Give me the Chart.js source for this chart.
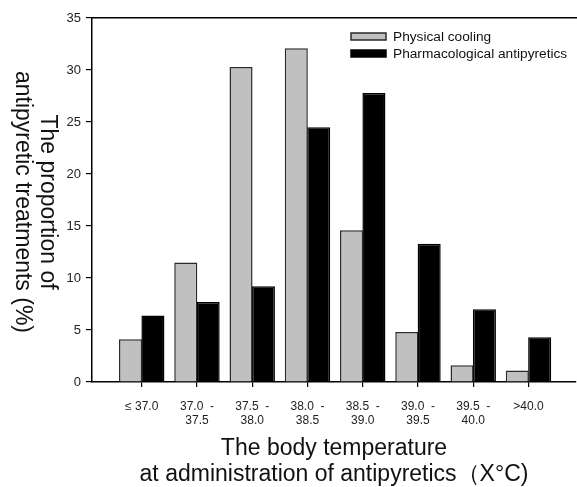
<!DOCTYPE html>
<html>
<head>
<meta charset="utf-8">
<script src="https://cdn.jsdelivr.net/npm/chart.js@4"></script>
<style>
  html, body { margin: 0; padding: 0; background: #fff; }
  canvas { display: block; }
</style>
</head>
<body>
<canvas id="chart" width="577" height="487"></canvas>
<script>
const categories = [
  ['\u2264 37.0'],
  ['37.0  -', '37.5'],
  ['37.5  -', '38.0'],
  ['38.0  -', '38.5'],
  ['38.5  -', '39.0'],
  ['39.0  -', '39.5'],
  ['39.5  -', '40.0'],
  ['>40.0']
];
const physicalCooling = [4.1, 11.5, 30.3, 32.1, 14.6, 4.8, 1.6, 1.1];
const pharmaAntipyretics = [6.4, 7.7, 9.2, 24.5, 27.8, 13.3, 7.0, 4.3];
const seriesNames = ['Physical cooling', 'Pharmacological antipyretics'];
const yTitle = ['The proportion of', 'antipyretic treatments (%)'];
const xTitle = ['The body temperature', 'at administration of antipyretics\uFF08X\u00B0C)'];

const FONT = '"Liberation Sans", Arial, sans-serif';

const toPoints = values => values.map((v, i) => ({x: i + 1, y: v}));

// legend drawn inside the plot, top right, stacked
const boxLegend = {
  id: 'boxLegend',
  afterDraw(chart) {
    const {ctx, chartArea} = chart;
    const x = chartArea.right - 225;
    let y = chartArea.top + 15;
    ctx.save();
    ctx.font = '13.7px ' + FONT;
    ctx.textBaseline = 'middle';
    chart.data.datasets.forEach(ds => {
      ctx.fillStyle = ds.backgroundColor;
      ctx.fillRect(x, y, 35, 7);
      ctx.lineWidth = 1.5;
      ctx.strokeStyle = ds.borderColor;
      ctx.strokeRect(x, y, 35, 7);
      ctx.fillStyle = '#111';
      ctx.fillText(ds.label, x + 42, y + 4);
      y += 17;
    });
    ctx.restore();
  }
};

// y title reads top to bottom, first line on the right
const sideTitle = {
  id: 'sideTitle',
  afterDraw(chart) {
    const {ctx, chartArea} = chart;
    const cy = (chartArea.top + chartArea.bottom) / 2 + 2;
    ctx.save();
    ctx.font = '23px ' + FONT;
    ctx.fillStyle = '#111';
    ctx.textAlign = 'center';
    ctx.textBaseline = 'middle';
    yTitle.forEach((line, i) => {
      ctx.save();
      ctx.translate(47 - i * 25, cy);
      ctx.rotate(Math.PI / 2);
      ctx.fillText(line, 0, 0);
      ctx.restore();
    });
    ctx.restore();
  }
};

new Chart(document.getElementById('chart'), {
  type: 'bar',
  data: {
    datasets: [{
      label: seriesNames[0],
      data: toPoints(physicalCooling),
      backgroundColor: '#c0c0c0',
      borderColor: '#2a2a2a',
      borderWidth: 1.5
    }, {
      label: seriesNames[1],
      data: toPoints(pharmaAntipyretics),
      backgroundColor: '#000000',
      borderColor: '#000000',
      borderWidth: 1.5
    }]
  },
  options: {
    responsive: false,
    animation: false,
    categoryPercentage: 0.81,
    barPercentage: 1.03,
    layout: {padding: {left: 0, right: 1, top: 0, bottom: 0}},
    plugins: {
      legend: {display: false},
      tooltip: {enabled: false}
    },
    scales: {
      x: {
        type: 'linear',
        position: 'bottom',
        offset: false,
        min: 0.1,
        max: 8.86,
        afterBuildTicks: axis => { axis.ticks = categories.map((c, i) => ({value: i + 1})); },
        afterFit: axis => { axis.height = 105; },
        grid: {offset: false, drawOnChartArea: false, drawTicks: true, tickLength: 5, color: '#000', lineWidth: 1.2},
        border: {display: true, color: '#000', width: 1.5},
        ticks: {
          callback: v => categories[v - 1],
          font: {family: FONT, size: 12},
          color: '#222',
          padding: 12,
          maxRotation: 0,
          autoSkip: false
        },
        title: {
          display: true,
          text: xTitle,
          font: {family: FONT, size: 23, lineHeight: 1.1},
          color: '#111',
          padding: {top: 0, bottom: 0}
        }
      },
      xTop: {
        type: 'linear',
        position: 'top',
        offset: false,
        afterFit: axis => { axis.height = 18; },
        grid: {display: false},
        border: {display: true, color: '#000', width: 1.5},
        ticks: {display: false}
      },
      y: {
        min: 0,
        max: 35,
        afterFit: axis => { axis.width = 92; },
        grid: {drawOnChartArea: false, drawTicks: true, tickLength: 6, color: '#000', lineWidth: 1.2},
        border: {display: true, color: '#000', width: 1.5},
        ticks: {
          stepSize: 5,
          font: {family: FONT, size: 13},
          color: '#222',
          padding: 5
        }
      }
    }
  },
  plugins: [boxLegend, sideTitle]
});
</script>
</body>
</html>
